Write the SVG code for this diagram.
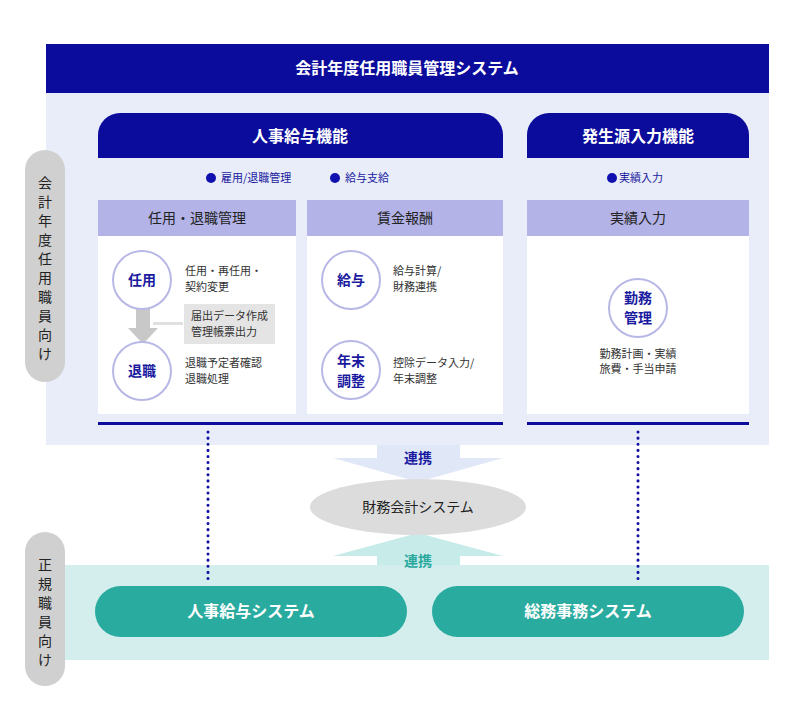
<svg xmlns="http://www.w3.org/2000/svg" width="800" height="711" viewBox="0 0 800 711">
<style>
text{font-family:"Noto Sans CJK JP","Noto Sans",sans-serif}
.t{font-size:16px;font-weight:bold;fill:#fff;text-anchor:middle}
.h{font-size:14px;fill:#222;text-anchor:middle}
.s{font-size:11px;fill:#333}
.c{font-size:14px;font-weight:bold;fill:#1a1aa0;text-anchor:middle}
.b{font-size:11px;fill:#1a1aa0}
.circ{fill:#fff;stroke:#b8b8e6;stroke-width:2}
.side{fill:#d0d0d0}
.vt{font-size:14px;fill:#222;text-anchor:middle}
.dot{stroke:#1010a0;stroke-width:3;stroke-dasharray:0.1 6;stroke-linecap:round;fill:none}
</style>
<rect x="46" y="93" width="723" height="352" fill="#e8edf9"/>
<rect x="46" y="44" width="723" height="49" fill="#0c0c9c"/>
<text class="t" x="407" y="74">会計年度任用職員管理システム</text>
<rect x="46" y="565" width="723" height="95" fill="#d4eeee"/>
<g id="sides">
<rect class="side" x="25" y="150" width="40" height="232" rx="20"/>
<text class="vt"><tspan x="45" y="188">会</tspan><tspan x="45" y="207">計</tspan><tspan x="45" y="226">年</tspan><tspan x="45" y="245">度</tspan><tspan x="45" y="264">任</tspan><tspan x="45" y="283">用</tspan><tspan x="45" y="302">職</tspan><tspan x="45" y="321">員</tspan><tspan x="45" y="340">向</tspan><tspan x="45" y="359">け</tspan></text>
<rect class="side" x="25" y="532" width="40" height="154" rx="20"/>
<text class="vt"><tspan x="45" y="570">正</tspan><tspan x="45" y="589">規</tspan><tspan x="45" y="608">職</tspan><tspan x="45" y="627">員</tspan><tspan x="45" y="646">向</tspan><tspan x="45" y="665">け</tspan></text>
</g>
<g id="jinji">
<path d="M98 158V135a22 22 0 0 1 22-22h361a22 22 0 0 1 22 22v23z" fill="#0c0c9c"/>
<text class="t" x="300" y="142">人事給与機能</text>
<circle cx="211" cy="178" r="5" fill="#1010b0"/><text class="b" x="221" y="182">雇用/退職管理</text>
<circle cx="335" cy="178" r="5" fill="#1010b0"/><text class="b" x="345" y="182">給与支給</text>
<rect x="98" y="200" width="198" height="36" fill="#b3b3e8"/><rect x="98" y="236" width="198" height="178" fill="#fff"/>
<text class="h" x="197" y="223">任用・退職管理</text>
<rect x="307" y="200" width="196" height="36" fill="#b3b3e8"/><rect x="307" y="236" width="196" height="178" fill="#fff"/>
<text class="h" x="405" y="223">賃金報酬</text>
<rect x="98" y="422" width="405" height="3" fill="#0c0c9c"/>
<rect x="136" y="306" width="14" height="22" fill="#c8c8c8"/><path d="M128 328h30l-15 16z" fill="#c8c8c8"/>
<rect x="153" y="322" width="30" height="3" fill="#e0e0e0"/>
<rect x="184" y="304" width="91" height="40" fill="#e4e4e4"/>
<text class="s" x="191" y="320" font-size="10">届出データ作成</text><text class="s" x="191" y="336" font-size="10">管理帳票出力</text>
<circle class="circ" cx="142" cy="280" r="29"/><text class="c" x="142" y="285">任用</text>
<circle class="circ" cx="142" cy="371" r="29"/><text class="c" x="142" y="376">退職</text>
<text class="s" x="185" y="275">任用・再任用・</text><text class="s" x="185" y="291">契約変更</text>
<text class="s" x="185" y="367">退職予定者確認</text><text class="s" x="185" y="383">退職処理</text>
<circle class="circ" cx="351" cy="280" r="29"/><text class="c" x="351" y="285">給与</text>
<circle class="circ" cx="351" cy="370" r="29"/><text class="c" x="351" y="366">年末</text><text class="c" x="351" y="386">調整</text>
<text class="s" x="393" y="275">給与計算/</text><text class="s" x="393" y="291">財務連携</text>
<text class="s" x="393" y="367">控除データ入力/</text><text class="s" x="393" y="383">年末調整</text>
</g>
<g id="hassei">
<path d="M527 158V135a22 22 0 0 1 22-22h178a22 22 0 0 1 22 22v23z" fill="#0c0c9c"/>
<text class="t" x="638" y="142">発生源入力機能</text>
<circle cx="612" cy="178" r="5" fill="#1010b0"/><text class="b" x="619" y="182">実績入力</text>
<rect x="527" y="200" width="222" height="36" fill="#b3b3e8"/><rect x="527" y="236" width="222" height="178" fill="#fff"/>
<text class="h" x="638" y="223">実績入力</text>
<rect x="527" y="422" width="222" height="3" fill="#0c0c9c"/>
<circle class="circ" cx="638" cy="308" r="29"/><text class="c" x="638" y="303">勤務</text><text class="c" x="638" y="323">管理</text>
<text class="s" x="638" y="358" text-anchor="middle">勤務計画・実績</text><text class="s" x="638" y="373" text-anchor="middle">旅費・手当申請</text>
</g>
<g id="connectors">
<path class="dot" d="M208 432V580"/>
<path class="dot" d="M638 432V580"/>
<path d="M377 445h83v13h43l-85 24-85-24h44z" fill="#e0e8f8"/>
<text class="c" x="418" y="463" font-size="16">連携</text>
<path d="M377 565h83v-9h43l-85-23-85 23h44z" fill="#c6ebe8"/>
<text class="c" x="418" y="566" font-size="16" style="fill:#2aa89e">連携</text>
</g>
<g id="zaimu">
<ellipse cx="418" cy="507" rx="108" ry="28" fill="#dcdcdc"/>
<text class="h" x="418" y="512">財務会計システム</text>
</g>
<g id="jinjisys"><rect x="95" y="586" width="312" height="51" rx="25.5" fill="#2aaba0"/><text class="t" x="251" y="617">人事給与システム</text></g>
<g id="soumu"><rect x="432" y="586" width="312" height="51" rx="25.5" fill="#2aaba0"/><text class="t" x="588" y="617">総務事務システム</text></g>
</svg>
